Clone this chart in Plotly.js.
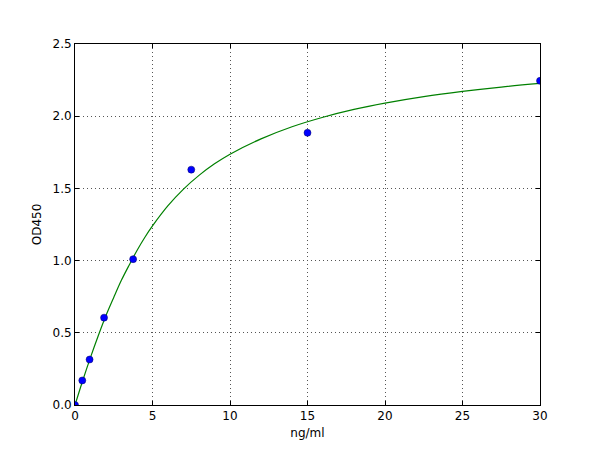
<!DOCTYPE html>
<html>
<head>
<meta charset="utf-8">
<script src="https://cdn.plot.ly/plotly-3.0.1.min.js"></script>
<style>
  body { margin: 0; background: #fff; }
  #grafico { width: 600px; height: 450px; }
</style>
</head>
<body>
<div id="grafico"></div>
<script>
// puntos medidos (concentracion vs OD450)
var concentracion = [0, 0.47, 0.94, 1.875, 3.75, 7.5, 15, 30];
var densidad = [0.0, 0.17, 0.315, 0.605, 1.01, 1.63, 1.885, 2.245];

// curva ajustada, valores
var curvaX = [0, 0.5, 1, 1.5, 2, 2.5, 3, 3.5, 4, 4.5, 5, 6, 7, 8, 9, 10, 12, 14, 16, 18, 20, 22.5, 25, 27.5, 30];
var curvaY = [0, 0.17, 0.33, 0.48, 0.62, 0.745, 0.865, 0.97, 1.07, 1.16, 1.24, 1.38, 1.495, 1.59, 1.67, 1.737, 1.843, 1.927, 1.993, 2.047, 2.091, 2.136, 2.172, 2.202, 2.227];

var dataCurva = {
  x: curvaX,
  y: curvaY,
  type: "scatter",
  mode: "lines",
  line: {color: "#008000", width: 1.2, shape: "spline"},
  hoverinfo: "skip"
};

var dataPuntos = {
  x: concentracion,
  y: densidad,
  type: "scatter",
  mode: "markers",
  marker: {color: "#0000ff", size: 7, line: {color: "#000060", width: 0.5}}
};

var ejeComun = {
  showline: true,
  linecolor: "#000",
  linewidth: 1,
  mirror: "allticks",
  ticks: "inside",
  ticklen: 4,
  tickcolor: "#000",
  showgrid: true,
  gridcolor: "#555",
  griddash: "1px,3px",
  gridwidth: 1,
  zeroline: false,
  tickfont: {family: "DejaVu Sans", size: 12, color: "#000"}
};

var layout = {
  width: 600,
  height: 450,
  margin: {l: 75, r: 60, t: 44, b: 45},
  paper_bgcolor: "#fff",
  plot_bgcolor: "#fff",
  showlegend: false,
  font: {family: "DejaVu Sans", size: 12, color: "#000"},
  xaxis: Object.assign({}, ejeComun, {
    range: [0, 30],
    dtick: 5,
    tick0: 0,
    title: {text: "ng/ml", font: {size: 12}, standoff: 6}
  }),
  yaxis: Object.assign({}, ejeComun, {
    range: [0, 2.5],
    dtick: 0.5,
    tick0: 0,
    tickformat: ".1f",
    title: {text: "OD450", font: {size: 12}, standoff: 8}
  })
};

Plotly.newPlot("grafico", [dataCurva, dataPuntos], layout, {displayModeBar: false, staticPlot: true});
</script>
</body>
</html>
